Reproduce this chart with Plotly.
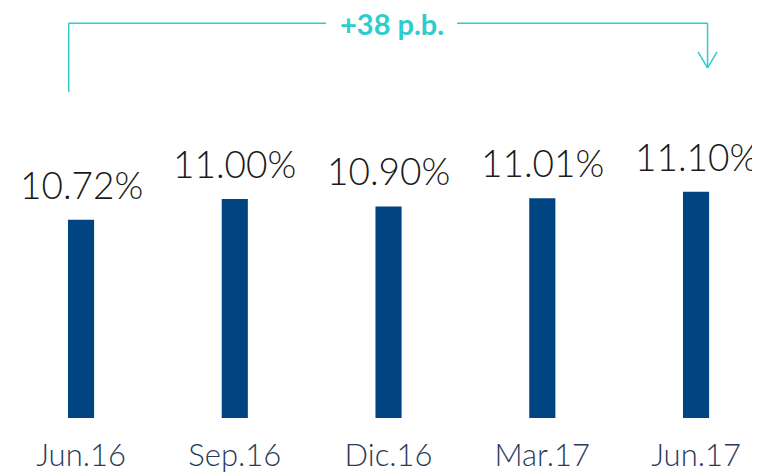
import plotly.graph_objects as go

# Datos
periodos = ['Jun.16', 'Sep.16', 'Dic.16', 'Mar.17', 'Jun.17']
ratio = [10.72, 11.00, 10.90, 11.01, 11.10]
etiquetas = ['10.72%', '11.00%', '10.90%', '11.01%', '11.10%']
variacion = '+38 p.b.'

COLORES = {
    'barra': '#004481',
    'aqua': '#2dcccd',
    'texto': '#1a1a1a',
    'eje': '#2a3a58',
}
FUENTE = 'Lato, Open Sans, sans-serif'

fig = go.Figure()

fig.add_trace(go.Bar(
    x=list(range(len(periodos))),
    y=ratio,
    width=0.17,
    marker=dict(color=COLORES['barra'], line=dict(width=0)),
    hoverinfo='skip',
))

# Etiquetas de valor sobre las barras
for i, (v, t) in enumerate(zip(ratio, etiquetas)):
    fig.add_annotation(
        x=i, y=v, text=t, showarrow=False,
        yanchor='bottom', yshift=11,
        font=dict(family=FUENTE, size=37, color=COLORES['texto'], weight=300),
    )

# Corchete con la variacion (con hueco para el texto)
x_ini, x_fin = -0.08, 4.075
hueco_ini, hueco_fin = 1.593, 2.446
y_linea = 0.963
linea = dict(color=COLORES['aqua'], width=1.5)
fig.add_shape(type='line', xref='x', yref='paper', x0=x_ini, x1=x_ini, y0=0.795, y1=y_linea, line=linea)
fig.add_shape(type='line', xref='x', yref='paper', x0=x_ini, x1=hueco_ini, y0=y_linea, y1=y_linea, line=linea)
fig.add_shape(type='line', xref='x', yref='paper', x0=hueco_fin, x1=x_fin, y0=y_linea, y1=y_linea, line=linea)
fig.add_shape(type='line', xref='x', yref='paper', x0=x_fin, x1=x_fin, y0=y_linea, y1=0.854, line=linea)
fig.add_shape(type='line', xref='x', yref='paper', x0=x_fin - 0.062, x1=x_fin, y0=0.893, y1=0.854, line=linea)
fig.add_shape(type='line', xref='x', yref='paper', x0=x_fin + 0.062, x1=x_fin, y0=0.893, y1=0.854, line=linea)

fig.add_annotation(
    x=(hueco_ini + hueco_fin) / 2, xref='x', y=y_linea, yref='paper', text=f'<b>{variacion}</b>',
    showarrow=False, xanchor='center', yanchor='middle', borderpad=0,
    font=dict(family=FUENTE, size=29, color=COLORES['aqua']),
)

fig.update_layout(
    width=752, height=466,
    margin=dict(l=0, r=0, t=0, b=56, autoexpand=False),
    paper_bgcolor='white', plot_bgcolor='white',
    showlegend=False,
    xaxis=dict(
        range=[-0.475, 4.416], automargin=False,
        tickmode='array', tickvals=list(range(len(periodos))), ticktext=periodos,
        showgrid=False, zeroline=False, showline=False, ticks='',
        tickfont=dict(family=FUENTE, size=31, color=COLORES['eje'], weight=300),
        ticklabelstandoff=16,
    ),
    yaxis=dict(
        range=[8.03, 13.593], automargin=False,
        visible=False, showgrid=False, zeroline=False,
    ),
)

fig.write_html('out.html')
